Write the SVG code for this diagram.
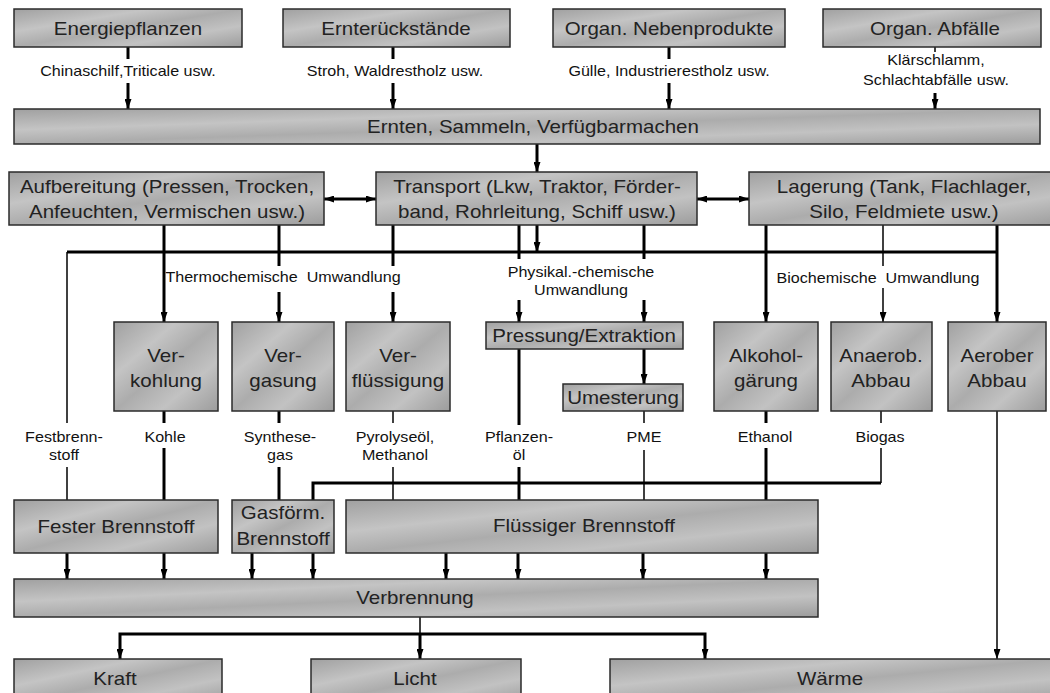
<svg xmlns="http://www.w3.org/2000/svg" width="1050" height="693" viewBox="0 0 1050 693">
<defs>
<linearGradient id="g" x1="0" y1="0" x2="1" y2="1">
<stop offset="0" stop-color="#a0a0a0"/>
<stop offset="0.3" stop-color="#c4c4c4"/>
<stop offset="0.5" stop-color="#acacac"/>
<stop offset="0.72" stop-color="#c2c2c2"/>
<stop offset="1" stop-color="#9c9c9c"/>
</linearGradient>
<marker id="a" viewBox="0 0 10 7" refX="10" refY="3.5" markerWidth="10" markerHeight="7" markerUnits="userSpaceOnUse" orient="auto-start-reverse"><path d="M0,0 L10,3.5 L0,7 z" fill="#000"/></marker>
</defs>
<style>
.box{fill:url(#g);stroke:#2b2b2b;stroke-width:1.5}
.t{font-family:"Liberation Sans",Arial,sans-serif;font-size:18px;fill:#222;text-anchor:middle}
.l{font-family:"Liberation Sans",Arial,sans-serif;font-size:14px;fill:#111;text-anchor:middle}
.k{stroke:#000;stroke-width:3;fill:none}
.n{stroke:#000;stroke-width:1.5;fill:none}
.ar{marker-end:url(#a)}
.dar{marker-start:url(#a);marker-end:url(#a)}
</style>
<rect x="0" y="0" width="1050" height="693" fill="#fff"/>

<g id="connectors">
<path class="k" d="M128,47V59"/><path class="k ar" d="M128,83V109"/>
<path class="k" d="M393,47V59"/><path class="k ar" d="M393,83V109"/>
<path class="k" d="M669,47V59"/><path class="k ar" d="M669,83V109"/>
<path class="n" d="M935,47V52"/><path class="k ar" d="M935,93V109"/>
<path class="k ar" d="M537,144V172"/>
<path class="k dar" d="M324,199H376"/>
<path class="k dar" d="M697,199H749"/>
<path class="k" d="M67,252H997"/>
<path class="n" d="M67,252V423"/><path class="n" d="M67,467V500"/>
<path class="k ar" d="M164,225V322"/>
<path class="k" d="M279,225V266"/><path class="k ar" d="M279,292V322"/>
<path class="k" d="M393,225V266"/><path class="k ar" d="M393,292V322"/>
<path class="k" d="M519,225V259"/><path class="k ar" d="M519,300V322"/>
<path class="k ar" d="M537,225V252"/>
<path class="k" d="M644,225V259"/><path class="k ar" d="M644,300V322"/>
<path class="k ar" d="M766,225V322"/>
<path class="n" d="M883,225V266"/><path class="n ar" d="M883,288V322"/>
<path class="k ar" d="M997,225V322"/>
<path class="k ar" d="M644,349V384"/>
<path class="k" d="M164,411V423"/><path class="k" d="M164,448V500"/>
<path class="k" d="M279,411V423"/><path class="k" d="M279,467V500"/>
<path class="n" d="M393,411V423"/><path class="n" d="M393,467V500"/>
<path class="k" d="M519,349V425"/><path class="k" d="M519,467V500"/>
<path class="n" d="M644,411V423"/><path class="n" d="M644,450V500"/>
<path class="k" d="M766,411V423"/><path class="k" d="M766,448V500"/>
<path class="n" d="M881,411V423"/><path class="n" d="M881,448V483"/>
<path class="k" d="M881,483H313V500"/>
<path class="k ar" d="M67,553V579"/>
<path class="k ar" d="M164,553V579"/>
<path class="k ar" d="M252,553V579"/>
<path class="k ar" d="M313,553V579"/>
<path class="k ar" d="M446,553V579"/>
<path class="k ar" d="M518,553V579"/>
<path class="k ar" d="M643,553V579"/>
<path class="k ar" d="M766,553V579"/>
<path class="n" d="M420,617V634"/>
<path class="k dar" d="M120,659V634H705V659"/>
<path class="k ar" d="M420,634V659"/>
<path class="n ar" d="M997,411V659"/>
</g>

<g id="labels">
<text class="l" transform="translate(128 76) scale(1.15 1)">Chinaschilf,Triticale usw.</text>
<text class="l" transform="translate(395 76) scale(1.15 1)">Stroh, Waldrestholz usw.</text>
<text class="l" transform="translate(669 76) scale(1.15 1)">Gülle, Industrierestholz usw.</text>
<text class="l" transform="translate(936 0) scale(1.15 1)"><tspan x="0" y="65">Klärschlamm,</tspan><tspan x="0" y="85">Schlachtabfälle usw.</tspan></text>
<text class="l" transform="translate(283 282) scale(1.15 1)">Thermochemische&#160; Umwandlung</text>
<text class="l" transform="translate(581 0) scale(1.15 1)"><tspan x="0" y="277">Physikal.-chemische</tspan><tspan x="0" y="295">Umwandlung</tspan></text>
<text class="l" transform="translate(878 283) scale(1.15 1)">Biochemische&#160; Umwandlung</text>
<text class="l" transform="translate(64 0) scale(1.15 1)"><tspan x="0" y="442">Festbrenn-</tspan><tspan x="0" y="460">stoff</tspan></text>
<text class="l" transform="translate(165 442) scale(1.15 1)">Kohle</text>
<text class="l" transform="translate(280 0) scale(1.15 1)"><tspan x="0" y="442">Synthese-</tspan><tspan x="0" y="460">gas</tspan></text>
<text class="l" transform="translate(395 0) scale(1.15 1)"><tspan x="0" y="442">Pyrolyseöl,</tspan><tspan x="0" y="460">Methanol</tspan></text>
<text class="l" transform="translate(519 0) scale(1.15 1)"><tspan x="0" y="442">Pflanzen-</tspan><tspan x="0" y="460">öl</tspan></text>
<text class="l" transform="translate(644 442) scale(1.15 1)">PME</text>
<text class="l" transform="translate(765 442) scale(1.15 1)">Ethanol</text>
<text class="l" transform="translate(880 442) scale(1.15 1)">Biogas</text>
</g>

<g id="energiepflanzen"><rect class="box" x="14" y="9" width="228" height="38"/><text class="t" transform="translate(128 35) scale(1.14 1)">Energiepflanzen</text></g>
<g id="ernterueckstaende"><rect class="box" x="283" y="9" width="227" height="38"/><text class="t" transform="translate(396 35) scale(1.14 1)">Ernterückstände</text></g>
<g id="nebenprodukte"><rect class="box" x="553" y="9" width="232" height="38"/><text class="t" transform="translate(669 35) scale(1.14 1)">Organ. Nebenprodukte</text></g>
<g id="abfaelle"><rect class="box" x="823" y="9" width="218" height="38"/><text class="t" transform="translate(935 35) scale(1.14 1)">Organ. Abfälle</text></g>
<g id="ernten"><rect class="box" x="14" y="109" width="1026" height="35"/><text class="t" transform="translate(533 133) scale(1.14 1)">Ernten, Sammeln, Verfügbarmachen</text></g>
<g id="aufbereitung"><rect class="box" x="9" y="172" width="315" height="53"/><text class="t" transform="translate(167 0) scale(1.14 1)"><tspan x="0" y="193">Aufbereitung (Pressen, Trocken,</tspan><tspan x="0" y="218">Anfeuchten, Vermischen usw.)</tspan></text></g>
<g id="transport"><rect class="box" x="376" y="172" width="321" height="53"/><text class="t" transform="translate(537 0) scale(1.14 1)"><tspan x="0" y="193">Transport (Lkw, Traktor, Förder-</tspan><tspan x="0" y="218">band, Rohrleitung, Schiff usw.)</tspan></text></g>
<g id="lagerung"><rect class="box" x="749" y="172" width="310" height="53"/><text class="t" transform="translate(904 0) scale(1.14 1)"><tspan x="0" y="193">Lagerung (Tank, Flachlager,</tspan><tspan x="0" y="218">Silo, Feldmiete usw.)</tspan></text></g>
<g id="verkohlung"><rect class="box" x="114" y="322" width="104" height="89"/><text class="t" transform="translate(166 0) scale(1.14 1)"><tspan x="0" y="362">Ver-</tspan><tspan x="0" y="387">kohlung</tspan></text></g>
<g id="vergasung"><rect class="box" x="232" y="322" width="102" height="89"/><text class="t" transform="translate(283 0) scale(1.14 1)"><tspan x="0" y="362">Ver-</tspan><tspan x="0" y="387">gasung</tspan></text></g>
<g id="verfluessigung"><rect class="box" x="346" y="322" width="104" height="89"/><text class="t" transform="translate(398 0) scale(1.14 1)"><tspan x="0" y="362">Ver-</tspan><tspan x="0" y="387">flüssigung</tspan></text></g>
<g id="pressung"><rect class="box" x="486" y="322" width="197" height="27"/><text class="t" transform="translate(584 342) scale(1.14 1)">Pressung/Extraktion</text></g>
<g id="umesterung"><rect class="box" x="563" y="384" width="120" height="27"/><text class="t" transform="translate(623 404) scale(1.14 1)">Umesterung</text></g>
<g id="alkoholgaerung"><rect class="box" x="714" y="322" width="104" height="89"/><text class="t" transform="translate(766 0) scale(1.14 1)"><tspan x="0" y="362">Alkohol-</tspan><tspan x="0" y="387">gärung</tspan></text></g>
<g id="anaerob"><rect class="box" x="831" y="322" width="101" height="89"/><text class="t" transform="translate(881 0) scale(1.14 1)"><tspan x="0" y="362">Anaerob.</tspan><tspan x="0" y="387">Abbau</tspan></text></g>
<g id="aerober"><rect class="box" x="948" y="322" width="98" height="89"/><text class="t" transform="translate(997 0) scale(1.14 1)"><tspan x="0" y="362">Aerober</tspan><tspan x="0" y="387">Abbau</tspan></text></g>
<g id="fester"><rect class="box" x="14" y="500" width="204" height="53"/><text class="t" transform="translate(116 533) scale(1.14 1)">Fester Brennstoff</text></g>
<g id="gasfoermig"><rect class="box" x="232" y="500" width="102" height="53"/><text class="t" transform="translate(283 0) scale(1.14 1)"><tspan x="0" y="519">Gasförm.</tspan><tspan x="0" y="545">Brennstoff</tspan></text></g>
<g id="fluessig"><rect class="box" x="346" y="500" width="472" height="53"/><text class="t" transform="translate(584 532) scale(1.14 1)">Flüssiger Brennstoff</text></g>
<g id="verbrennung"><rect class="box" x="14" y="579" width="804" height="38"/><text class="t" transform="translate(415 604) scale(1.14 1)">Verbrennung</text></g>
<g id="kraft"><rect class="box" x="14" y="659" width="208" height="45"/><text class="t" transform="translate(115 685) scale(1.14 1)">Kraft</text></g>
<g id="licht"><rect class="box" x="311" y="659" width="210" height="45"/><text class="t" transform="translate(415 685) scale(1.14 1)">Licht</text></g>
<g id="waerme"><rect class="box" x="610" y="659" width="445" height="45"/><text class="t" transform="translate(830 685) scale(1.14 1)">Wärme</text></g>
</svg>
